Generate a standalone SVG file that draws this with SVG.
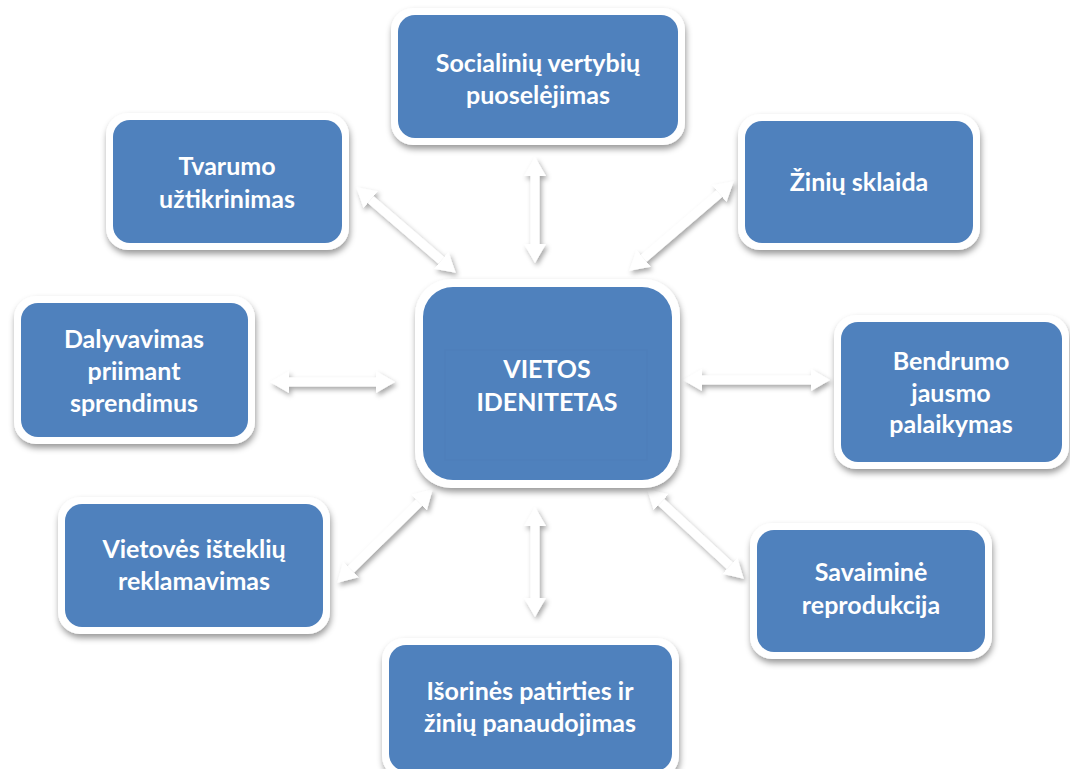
<svg xmlns="http://www.w3.org/2000/svg" width="1070" height="769" viewBox="0 0 1070 769">
<style>
.frame{fill:#ffffff;}
.box{fill:#4F81BD;}
.lbl{fill:#ffffff;font-family:Lato,"Open Sans",sans-serif;font-weight:bold;font-size:25px;text-anchor:middle;}
.conn line{stroke:#ffffff;stroke-width:9;marker-start:url(#head);marker-end:url(#head);}
</style>
<defs>
<filter id="nsh" x="-20%" y="-20%" width="140%" height="140%">
<feDropShadow dx="1" dy="4" stdDeviation="3" flood-color="#000" flood-opacity="0.4"/>
</filter>
<filter id="ash" x="-30%" y="-30%" width="160%" height="160%">
<feDropShadow dx="2" dy="3" stdDeviation="2.5" flood-color="#000" flood-opacity="0.35"/>
</filter>
<marker id="head" markerUnits="userSpaceOnUse" markerWidth="20" markerHeight="24" refX="0" refY="12" orient="auto-start-reverse" viewBox="0 0 20 24">
<path d="M0,1 L19,12 L0,23 z" fill="#ffffff"/>
</marker>
</defs>
<rect width="1070" height="769" fill="#ffffff"/>

<g id="connectors" class="conn" filter="url(#ash)">
<line x1="535" y1="176" x2="535" y2="244"/>
<line x1="535" y1="526" x2="535" y2="598"/>
<line x1="289" y1="382" x2="376" y2="382"/>
<line x1="702" y1="380" x2="811" y2="380"/>
<line x1="370.7" y1="199.7" x2="441.3" y2="260.3"/>
<line x1="719.3" y1="193.7" x2="643.7" y2="258.3"/>
<line x1="350.9" y1="569.4" x2="419.1" y2="502.6"/>
<line x1="661.2" y1="502.2" x2="729.8" y2="565.8"/>
</g>

<g id="n-center">
<rect class="frame" x="415" y="279" width="265" height="209" rx="36" filter="url(#nsh)"/>
<rect class="box" x="423" y="287" width="249" height="193" rx="30"/>
<rect x="445" y="350" width="202" height="110" fill="none" stroke="#4a7ab3" stroke-width="1" opacity="0.25"/>
<text class="lbl" x="547" y="378">VIETOS</text>
<text class="lbl" x="547" y="411">IDENITETAS</text>
</g>

<g id="n-social">
<rect class="frame" x="391" y="8" width="294" height="137" rx="22" filter="url(#nsh)"/>
<rect class="box" x="398" y="15" width="280" height="123" rx="17"/>
<text class="lbl" x="538" y="72">Socialinių vertybių</text>
<text class="lbl" x="538" y="104">puoselėjimas</text>
</g>

<g id="n-tvarumo">
<rect class="frame" x="106" y="113" width="243" height="137" rx="22" filter="url(#nsh)"/>
<rect class="box" x="113" y="120" width="229" height="123" rx="17"/>
<text class="lbl" x="227" y="175">Tvarumo</text>
<text class="lbl" x="227" y="208">užtikrinimas</text>
</g>

<g id="n-ziniu">
<rect class="frame" x="738" y="114" width="242" height="136" rx="22" filter="url(#nsh)"/>
<rect class="box" x="745" y="121" width="228" height="122" rx="17"/>
<text class="lbl" x="859" y="191">Žinių sklaida</text>
</g>

<g id="n-dalyvavimas">
<rect class="frame" x="14" y="296" width="241" height="148" rx="22" filter="url(#nsh)"/>
<rect class="box" x="21" y="303" width="227" height="134" rx="17"/>
<text class="lbl" x="134" y="348">Dalyvavimas</text>
<text class="lbl" x="134" y="380">priimant</text>
<text class="lbl" x="134" y="412">sprendimus</text>
</g>

<g id="n-bendrumo">
<rect class="frame" x="834" y="315" width="235" height="154" rx="22" filter="url(#nsh)"/>
<rect class="box" x="841" y="322" width="221" height="140" rx="17"/>
<text class="lbl" x="951" y="370">Bendrumo</text>
<text class="lbl" x="951" y="402">jausmo</text>
<text class="lbl" x="951" y="433">palaikymas</text>
</g>

<g id="n-vietoves">
<rect class="frame" x="58" y="497" width="272" height="137" rx="22" filter="url(#nsh)"/>
<rect class="box" x="65" y="504" width="258" height="123" rx="17"/>
<text class="lbl" x="194" y="558">Vietovės išteklių</text>
<text class="lbl" x="194" y="590">reklamavimas</text>
</g>

<g id="n-savaimine">
<rect class="frame" x="750" y="523" width="242" height="136" rx="22" filter="url(#nsh)"/>
<rect class="box" x="757" y="530" width="228" height="122" rx="17"/>
<text class="lbl" x="871" y="581">Savaiminė</text>
<text class="lbl" x="871" y="614">reprodukcija</text>
</g>

<g id="n-isorines">
<rect class="frame" x="382" y="638" width="297" height="140" rx="22" filter="url(#nsh)"/>
<rect class="box" x="389" y="645" width="283" height="126" rx="17"/>
<text class="lbl" x="530" y="700">Išorinės patirties ir</text>
<text class="lbl" x="530" y="732">žinių panaudojimas</text>
</g>
</svg>
